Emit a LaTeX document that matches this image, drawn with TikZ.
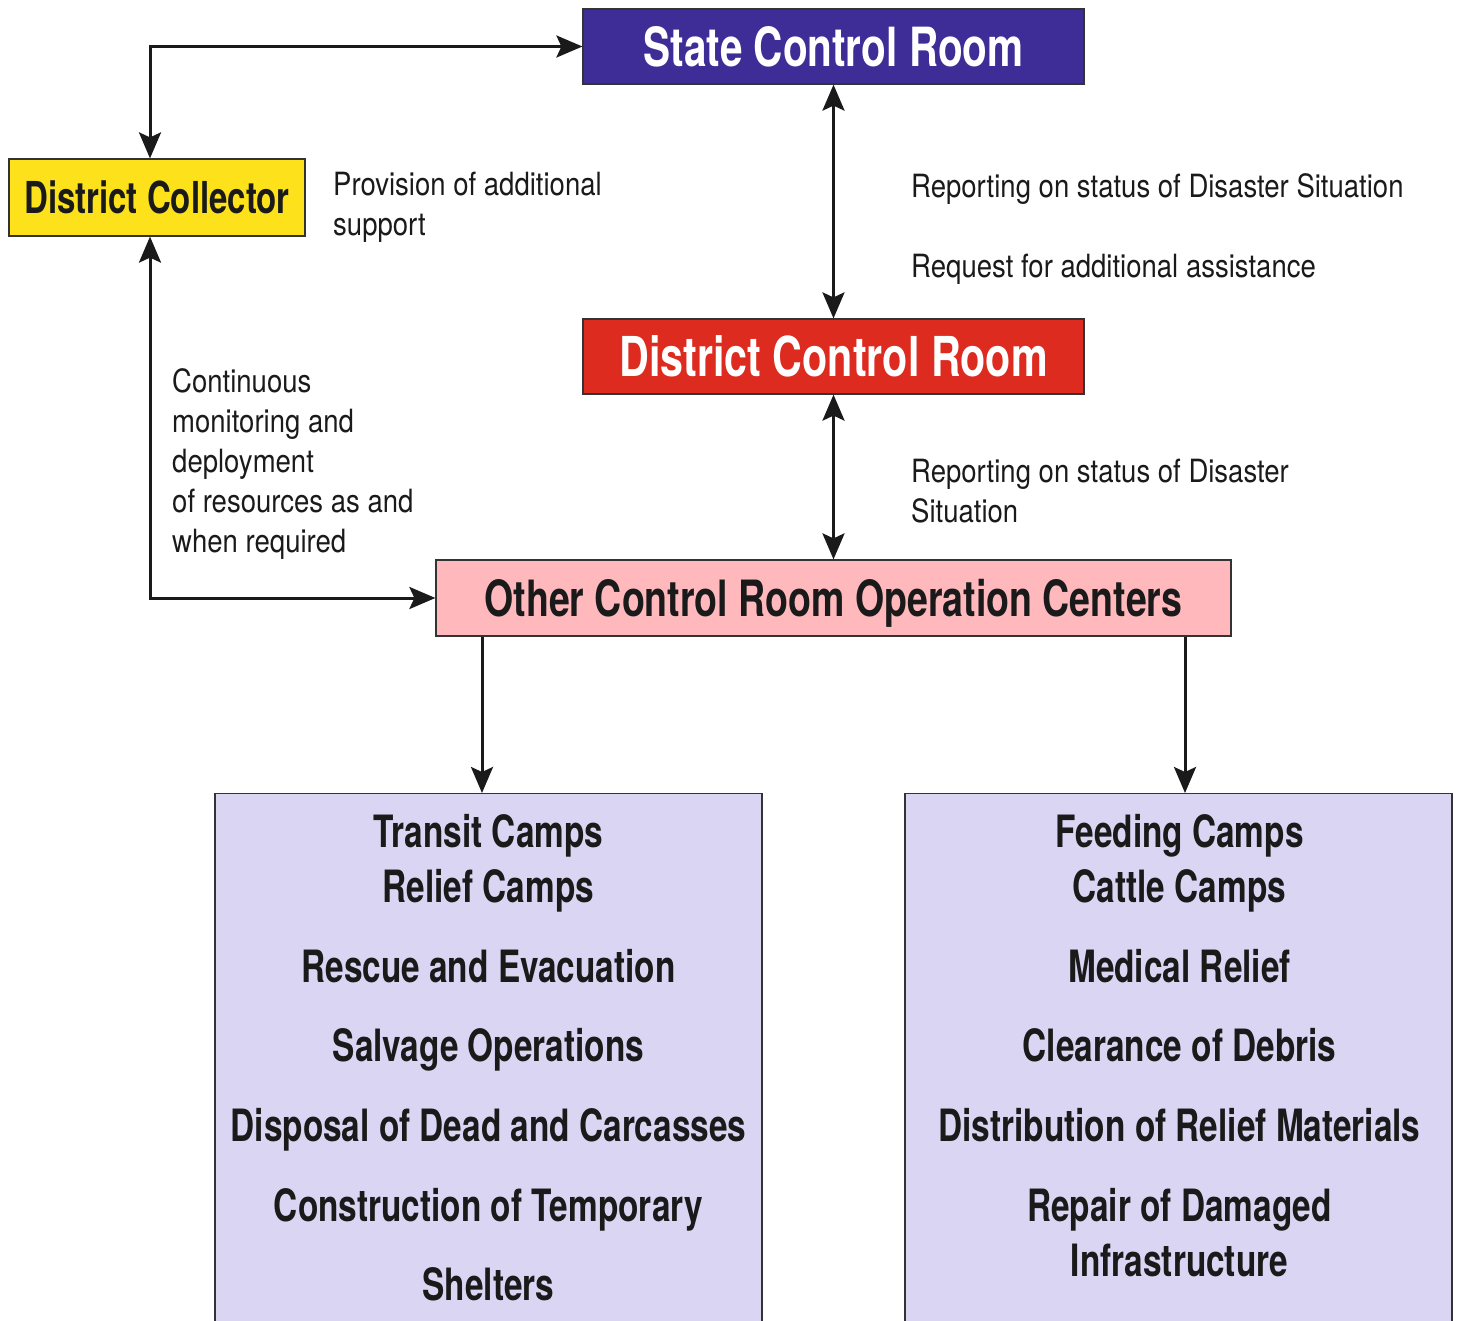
\documentclass[tikz,border=0pt]{standalone}
\usepackage{fontspec}
\setmainfont{TeX Gyre Heros}[FakeStretch=0.86]
\newfontfamily\cnbold{TeX Gyre Heros}[FakeStretch=0.75]
\usetikzlibrary{arrows.meta, positioning}
\definecolor{stateblue}{RGB}{62,45,151}
\definecolor{collyellow}{RGB}{253,225,26}
\definecolor{distred}{RGB}{222,43,32}
\definecolor{opspink}{RGB}{255,185,189}
\definecolor{listlav}{RGB}{218,213,243}
\definecolor{ink}{RGB}{26,26,26}
\newcommand{\headsize}[1]{\cnbold\bfseries\fontsize{#1}{#1}\selectfont}

\begin{document}
\begin{tikzpicture}[x=1pt, y=-1pt,
  box/.style={draw=black!80, line width=1.2pt, inner sep=0pt, text depth=0pt},
  note/.style={inner sep=0pt, align=left, anchor=north west, text=ink,
    font=\fontsize{32}{40}\selectfont},
  item/.style={inner sep=0pt, anchor=base, text=ink, font=\headsize{44.5}},
  link/.style={<->, line width=3pt, ink, >={Stealth[length=26pt,width=22pt,inset=5pt]}},
  oneway/.style={link, <-}]
  \useasboundingbox (0,0) rectangle (1458,1320);
  % control rooms
  \node[box, fill=stateblue, text=white, minimum width=501pt, minimum height=75pt,
    font=\headsize{54}] (scr) at (833.5,46.5) {State Control Room};
  \node[box, fill=collyellow, text=ink, minimum width=296pt, minimum height=77pt,
    font=\headsize{44}] (dc) at (157,197.5) {District Collector};
  \node[box, fill=distred, text=white, minimum width=501pt, minimum height=75pt,
    font=\headsize{55}] (dcr) at (833.5,356.5) {District Control Room};
  \node[box, fill=opspink, text=ink, minimum width=795pt, minimum height=76pt,
    font=\headsize{50}] (ocr) at (833.5,598) {Other Control Room Operation Centers};
  % task boxes
  \node[box, fill=listlav, minimum width=547pt, minimum height=560pt, anchor=north]
    (lbox) at (488.5,793) {};
  \node[box, fill=listlav, minimum width=547pt, minimum height=560pt, anchor=north]
    (rbox) at (1178.5,793) {};
  \foreach \txt/\yy [count=\i] in {Transit Camps/847, Relief Camps/902,
      Rescue and Evacuation/982, Salvage Operations/1061,
      Disposal of Dead and Carcasses/1141, Construction of Temporary/1221,
      Shelters/1300}
    \node[item] (left\i) at (488.5,\yy) {\txt};
  \foreach \txt/\yy [count=\i] in {Feeding Camps/847, Cattle Camps/902,
      Medical Relief/982, Clearance of Debris/1061,
      Distribution of Relief Materials/1141, Repair of Damaged/1221,
      Infrastructure/1276}
    \node[item] (right\i) at (1179.5,\yy) {\txt};
  % side notes
  \node[note] (prov) at (333,172) {Provision of additional\\support};
  \node[note] (rep1) at (911,173) {Reporting on status of Disaster Situation};
  \node[note] (req) at (911,254) {Request for additional assistance};
  \node[note] (mon) at (172,368) {Continuous\\monitoring and\\deployment\\of resources as and\\when required};
  \node[note] (rep2) at (911,459) {Reporting on status of Disaster\\Situation};
  % connectors
  \coordinate (lx) at (482,0);
  \coordinate (rx) at (1185,0);
  \draw[link] ([xshift=-7pt]dc.north) |- (scr.west);
  \draw[link] ([xshift=-7pt]dc.south) |- (ocr.west);
  \draw[link] (scr.south) -- (dcr.north);
  \draw[link] (dcr.south) -- (ocr.north);
  \draw[oneway] (lbox.north -| lx) -- (ocr.south -| lx);
  \draw[oneway] (rbox.north -| rx) -- (ocr.south -| rx);
\end{tikzpicture}
\end{document}
